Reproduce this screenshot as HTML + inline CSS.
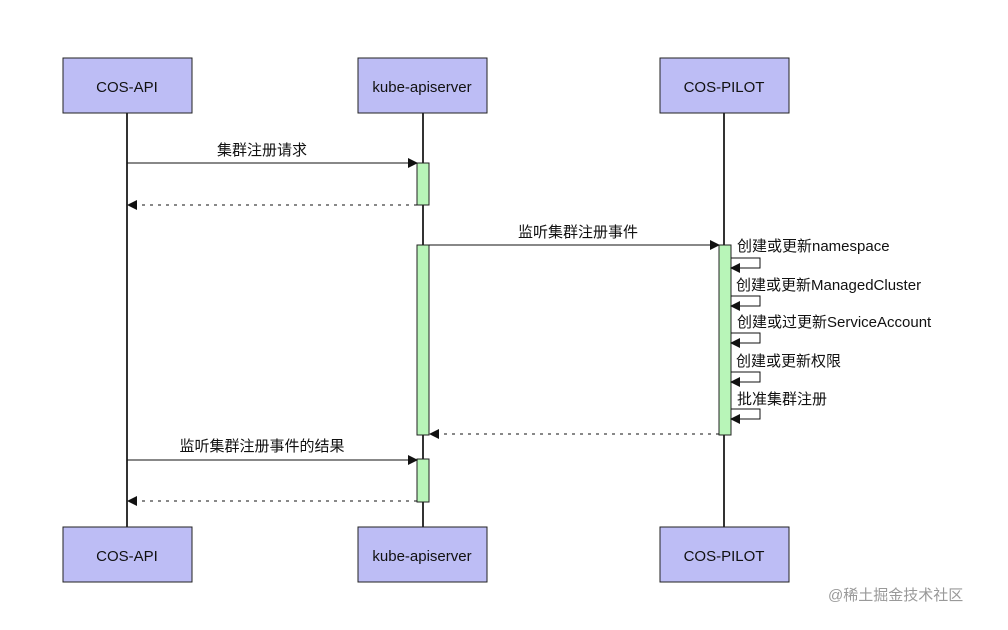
<!DOCTYPE html>
<html><head><meta charset="utf-8"><style>
body{margin:0;background:#fff;width:1008px;height:625px;overflow:hidden}
text{font-family:"Liberation Sans","Noto Sans CJK SC",sans-serif;font-size:15px;fill:#111}
</style></head><body>
<svg width="1008" height="625" viewBox="0 0 1008 625">
<defs>
<marker id="a" markerWidth="10" markerHeight="10" refX="9" refY="5" orient="auto" markerUnits="userSpaceOnUse"><path d="M0,0 L10,5 L0,10 z" fill="#111"/></marker>
</defs>
<g stroke="#333" stroke-width="2">
<line x1="127" y1="113" x2="127" y2="527"/>
<line x1="423" y1="113" x2="423" y2="527"/>
<line x1="724" y1="113" x2="724" y2="527"/>
</g>
<g fill="#bdbdf5" stroke="#222" stroke-width="1">
<rect x="63" y="58" width="129" height="55"/><rect x="358" y="58" width="129" height="55"/><rect x="660" y="58" width="129" height="55"/>
<rect x="63" y="527" width="129" height="55"/><rect x="358" y="527" width="129" height="55"/><rect x="660" y="527" width="129" height="55"/>
</g>
<g text-anchor="middle" style="font-size:16px">
<text x="127" y="92">COS-API</text><text x="422" y="92">kube-apiserver</text><text x="724" y="92">COS-PILOT</text>
<text x="127" y="561">COS-API</text><text x="422" y="561">kube-apiserver</text><text x="724" y="561">COS-PILOT</text>
</g>
<g fill="#b8f5b8" stroke="#222" stroke-width="1">
<rect x="417" y="163" width="12" height="42"/>
<rect x="417" y="245" width="12" height="190"/>
<rect x="417" y="459" width="12" height="43"/>
<rect x="719" y="245" width="12" height="190"/>
</g>
<g stroke="#111" stroke-width="1" fill="none">
<line x1="127" y1="163" x2="417" y2="163" marker-end="url(#a)"/>
<line x1="417" y1="205" x2="128" y2="205" stroke-dasharray="3,5" marker-end="url(#a)"/>
<line x1="429" y1="245" x2="719" y2="245" marker-end="url(#a)"/>
<line x1="719" y1="434" x2="430" y2="434" stroke-dasharray="3,5" marker-end="url(#a)"/>
<line x1="127" y1="460" x2="417" y2="460" marker-end="url(#a)"/>
<line x1="417" y1="501" x2="128" y2="501" stroke-dasharray="3,5" marker-end="url(#a)"/>
<polyline points="731,258 760,258 760,268 731,268" marker-end="url(#a)"/>
<polyline points="731,296 760,296 760,306 731,306" marker-end="url(#a)"/>
<polyline points="731,333 760,333 760,343 731,343" marker-end="url(#a)"/>
<polyline points="731,372 760,372 760,382 731,382" marker-end="url(#a)"/>
<polyline points="731,409 760,409 760,419 731,419" marker-end="url(#a)"/>
</g>
<g text-anchor="middle">
<text x="262" y="155">集群注册请求</text>
<text x="578" y="237">监听集群注册事件</text>
<text x="262" y="451">监听集群注册事件的结果</text>
</g>
<text x="737" y="251">创建或更新namespace</text>
<text x="736" y="290">创建或更新ManagedCluster</text>
<text x="737" y="327">创建或过更新ServiceAccount</text>
<text x="736" y="366">创建或更新权限</text>
<text x="737" y="404">批准集群注册</text>
<text x="828" y="600" style="fill:#999;font-size:15px">@稀土掘金技术社区</text>
</svg>
</body></html>
